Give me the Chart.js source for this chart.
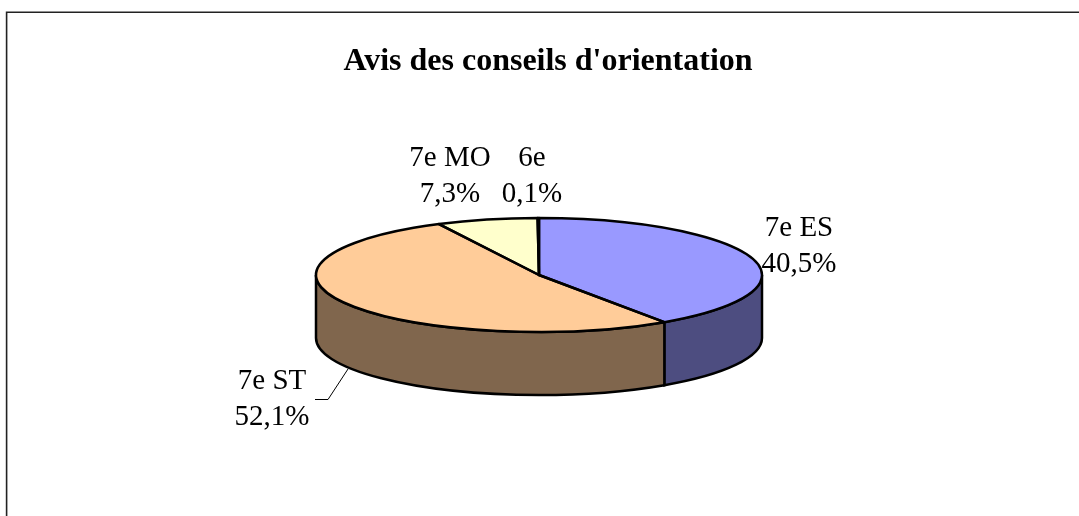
<!DOCTYPE html>
<html>
<head>
<meta charset="utf-8">
<style>
html,body{margin:0;padding:0;background:#fff;overflow:hidden}
canvas{display:block}
</style>
<script src="https://cdn.jsdelivr.net/npm/chart.js@4"></script>
</head>
<body>
<canvas id="c" width="1079" height="516"></canvas>
<script>
const titleText = "Avis des conseils d'orientation";
const categories = ["7e ES", "7e ST", "7e MO", "6e"];
const shares = [40.5, 52.1, 7.3, 0.1];
const topColors = ["#9999FF", "#FFCC99", "#FFFFCC", "#CCFFFF"];
const wallColors = ["#4D4D80", "#80664D", "#808066", "#668080"];

const SQUASH = 57 / 223, DEPTH = 63;
const FONT = '29px "Liberation Serif"';
const LABEL_LINE = 36;
// centre x and first baseline of each two-line label
const labelAnchors = [[799, 236], [272, 389], [450, 166], [532, 166]];

const pie3d = {
  id: 'pie3d',
  beforeDraw(chart) {
    const ctx = chart.ctx;
    ctx.save();
    ctx.strokeStyle = '#222';
    ctx.lineWidth = 1.6;
    ctx.beginPath();
    ctx.moveTo(6.6, 516); ctx.lineTo(6.6, 12.2); ctx.lineTo(1079, 12.2);
    ctx.stroke();
    ctx.fillStyle = '#000';
    ctx.font = 'bold 32px "Liberation Serif"';
    ctx.textAlign = 'center';
    ctx.fillText(titleText, 548, 70);
    ctx.restore();
  },
  beforeDatasetsDraw(chart) {
    const ctx = chart.ctx, arcs = chart.getDatasetMeta(0).data;
    ctx.save();
    arcs.forEach((a, i) => {
      const s = Math.max(a.startAngle, 0), e = Math.min(a.endAngle, Math.PI);
      if (e <= s) return;
      const ry = a.outerRadius * SQUASH;
      ctx.beginPath();
      ctx.ellipse(a.x, a.y, a.outerRadius, ry, 0, s, e);
      ctx.ellipse(a.x, a.y + DEPTH, a.outerRadius, ry, 0, e, s, true);
      ctx.closePath();
      ctx.fillStyle = wallColors[i];
      ctx.strokeStyle = '#000';
      ctx.lineWidth = 2.5;
      ctx.fill();
      ctx.stroke();
    });
    ctx.restore();
  },
  beforeDatasetDraw(chart) {
    const a = chart.getDatasetMeta(0).data[0], ctx = chart.ctx;
    ctx.save();
    ctx.translate(a.x, a.y);
    ctx.scale(1, SQUASH);
    ctx.translate(-a.x, -a.y);
  },
  afterDatasetDraw(chart) {
    chart.ctx.restore();
  },
  afterDatasetsDraw(chart) {
    const ctx = chart.ctx, arcs = chart.getDatasetMeta(0).data;
    ctx.save();
    ctx.strokeStyle = '#000';
    ctx.lineWidth = 2.5;
    ctx.lineJoin = 'round';
    arcs.forEach(a => {
      const ry = a.outerRadius * SQUASH;
      ctx.beginPath();
      ctx.moveTo(a.x, a.y);
      ctx.ellipse(a.x, a.y, a.outerRadius, ry, 0, a.startAngle, a.endAngle);
      ctx.closePath();
      ctx.stroke();
    });
    // leader line of the 7e ST label
    ctx.lineWidth = 1;
    ctx.beginPath();
    ctx.moveTo(315, 399.5); ctx.lineTo(328, 399.5); ctx.lineTo(348, 369);
    ctx.stroke();
    // labels
    ctx.fillStyle = '#000';
    ctx.font = FONT;
    ctx.textAlign = 'center';
    categories.forEach((name, i) => {
      const [x, y] = labelAnchors[i];
      ctx.fillText(name, x, y);
      ctx.fillText(shares[i].toFixed(1).replace('.', ',') + '%', x, y + LABEL_LINE);
    });
    ctx.restore();
  }
};

new Chart(document.getElementById('c'), {
  type: 'pie',
  data: {
    labels: categories,
    datasets: [{
      data: shares,
      backgroundColor: topColors,
      borderWidth: 0,
      clip: false
    }]
  },
  options: {
    responsive: false,
    animation: false,
    layout: { padding: { left: 0, right: 1, top: 52, bottom: 18 } },
    plugins: { legend: { display: false }, title: { display: false }, tooltip: { enabled: false } }
  },
  plugins: [pie3d]
});
</script>
</body>
</html>
